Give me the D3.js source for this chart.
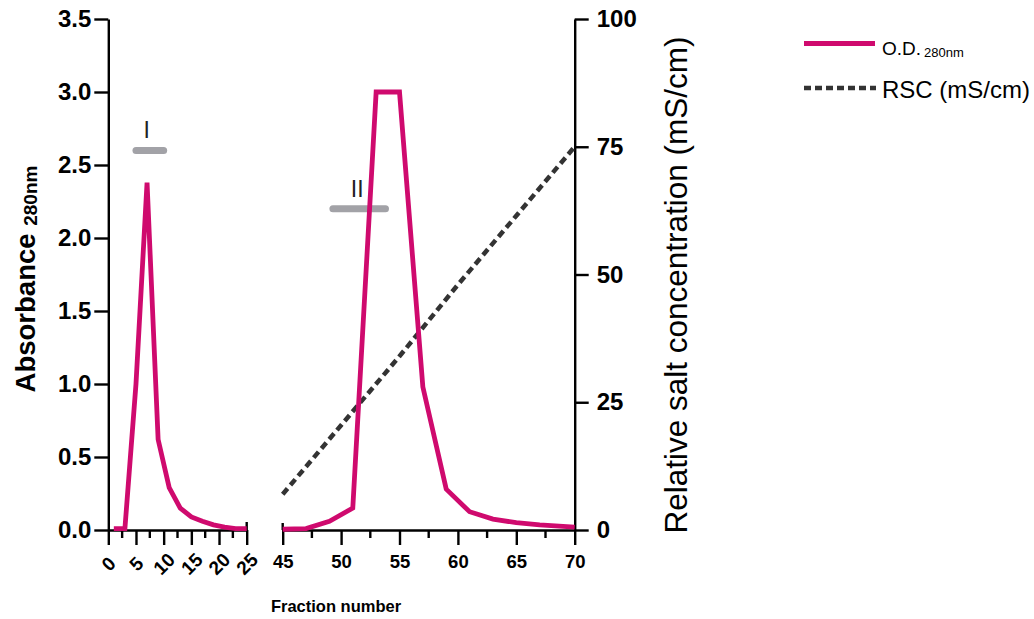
<!DOCTYPE html>
<html>
<head>
<meta charset="utf-8">
<script src="https://cdn.jsdelivr.net/npm/d3@7"></script>
<style>
  html, body { margin: 0; padding: 0; background: #fff; }
  svg { display: block; font-family: "Liberation Sans", Arial, sans-serif; }
</style>
</head>
<body>
<svg id="chart" width="1034" height="619"></svg>
<script>
// ---- Data ----
const fractionsEarly = [1, 3, 5, 7, 9, 11, 13, 15, 17, 19, 21, 23, 25];
const odEarly        = [0.01, 0.01, 1.0, 2.38, 0.62, 0.29, 0.15, 0.09, 0.06, 0.035, 0.02, 0.01, 0.01];
const fractionsLate  = [45, 47, 49, 51, 53, 55, 57, 59, 61, 63, 65, 67, 69, 70];
const odLate         = [0.005, 0.01, 0.06, 0.15, 3.0, 3.0, 0.98, 0.28, 0.125, 0.075, 0.05, 0.035, 0.025, 0.02];
const rscFractions   = [45, 50, 55, 60, 65, 70];
const rscValues      = [7, 20.5, 34, 48, 61.5, 75];
const xTicksEarly    = [0, 5, 10, 15, 20, 25];
const xTicksLate     = [45, 50, 55, 60, 65, 70];
const yLeftTicks     = [0, 0.5, 1.0, 1.5, 2.0, 2.5, 3.0, 3.5];
const yRightTicks    = [0, 25, 50, 75, 100];
const poolLabels     = ["I", "II"];
const poolFrom       = [5, 49.3];
const poolTo         = [10, 53.8];
const poolLevel      = [2.6, 2.2];

// ---- Styles ----
const PINK = "#cf0a6e";
const DARK = "#333333";
const GREY = "#a2a2a7";

const svg = d3.select("#chart");

// ---- Scales ----
const xL = d3.scaleLinear().domain([0, 25]).range([108.3, 246.7]);
const xR = d3.scaleLinear().domain([45, 70]).range([282.7, 574.7]);
const yL = d3.scaleLinear().domain([0, 3.5]).range([530, 19]);
const yR = d3.scaleLinear().domain([0, 100]).range([530, 19]);

// ---- Axes ----
const axisStroke = 2.4;
function styleAxis(g) {
  g.select(".domain").attr("stroke", "#000").attr("stroke-width", axisStroke);
  g.selectAll(".tick line").attr("stroke", "#000").attr("stroke-width", axisStroke);
}

// Left y axis
const gYL = svg.append("g").attr("transform", `translate(${xL(0)},0)`)
  .call(d3.axisLeft(yL).tickValues(yLeftTicks).tickFormat(d3.format(".1f")).tickSizeInner(14).tickSizeOuter(0).tickPadding(3));
styleAxis(gYL);
gYL.selectAll(".tick text").attr("font-size", 24).attr("font-weight", "bold").attr("fill", "#000")
  .attr("font-family", "Liberation Sans, Arial, sans-serif");

// Right y axis
const gYR = svg.append("g").attr("transform", `translate(${xR(70)},0)`)
  .call(d3.axisRight(yR).tickValues(yRightTicks).tickSizeInner(14).tickSizeOuter(0).tickPadding(8));
styleAxis(gYR);
gYR.selectAll(".tick text").attr("font-size", 24).attr("font-weight", "bold").attr("fill", "#000")
  .attr("font-family", "Liberation Sans, Arial, sans-serif");

// Bottom x axis: early segment
const minorEarly = d3.range(0, 25.01, 2.5).filter(v => v % 5 !== 0);
const minorLate = d3.range(45, 70.01, 2.5).filter(v => v % 5 !== 0);

const gXL = svg.append("g").attr("transform", `translate(0,${yL(0)})`)
  .call(d3.axisBottom(xL).tickValues(xTicksEarly).tickSizeInner(15).tickSizeOuter(0).tickPadding(4));
styleAxis(gXL);
gXL.selectAll(".tick text")
  .attr("font-size", 19).attr("font-weight", "bold").attr("fill", "#000")
  .attr("font-family", "Liberation Sans, Arial, sans-serif")
  .attr("text-anchor", "middle").attr("dy", null).attr("y", null)
  .attr("transform", "translate(1,35) rotate(-45)")
  .attr("dominant-baseline", "middle");
gXL.selectAll(".minor").data(minorEarly).enter().append("line")
  .attr("x1", d => xL(d)).attr("x2", d => xL(d)).attr("y1", 0).attr("y2", 8)
  .attr("stroke", "#000").attr("stroke-width", axisStroke);

// Bottom x axis: late segment
const gXR = svg.append("g").attr("transform", `translate(0,${yL(0)})`)
  .call(d3.axisBottom(xR).tickValues(xTicksLate).tickSizeInner(15).tickSizeOuter(0).tickPadding(10));
styleAxis(gXR);
gXR.selectAll(".tick text").attr("font-size", 18.5).attr("font-weight", "bold").attr("fill", "#000")
  .attr("font-family", "Liberation Sans, Arial, sans-serif");
gXR.selectAll(".minor").data(minorLate).enter().append("line")
  .attr("x1", d => xR(d)).attr("x2", d => xR(d)).attr("y1", 0).attr("y2", 8)
  .attr("stroke", "#000").attr("stroke-width", axisStroke);

// break marks at segment ends
svg.append("line").attr("x1", xL(25)).attr("x2", xL(25)).attr("y1", yL(0) - 8).attr("y2", yL(0))
  .attr("stroke", "#000").attr("stroke-width", axisStroke);
svg.append("line").attr("x1", xR(45)).attr("x2", xR(45)).attr("y1", yL(0) - 7).attr("y2", yL(0))
  .attr("stroke", "#000").attr("stroke-width", axisStroke);

// ---- Lines ----
const lineEarly = d3.line().x((d, i) => xL(fractionsEarly[i])).y(d => yL(d));
const lineLate = d3.line().x((d, i) => xR(fractionsLate[i])).y(d => yL(d));
const lineRsc = d3.line().x((d, i) => xR(rscFractions[i])).y(d => yR(d));

svg.append("path").datum(rscValues).attr("d", lineRsc)
  .attr("fill", "none").attr("stroke", DARK).attr("stroke-width", 4.5)
  .attr("stroke-dasharray", "7.5,4.5");

// pool bars
poolLabels.forEach((lab, i) => {
  const xs = i === 0 ? xL : xR;
  svg.append("line")
    .attr("x1", xs(poolFrom[i])).attr("x2", xs(poolTo[i]))
    .attr("y1", yL(poolLevel[i])).attr("y2", yL(poolLevel[i]))
    .attr("stroke", GREY).attr("stroke-width", 7).attr("stroke-linecap", "round");
  svg.append("text")
    .attr("x", xs((poolFrom[i] + poolTo[i]) / 2) + (i === 0 ? -3 : -2))
    .attr("y", yL(poolLevel[i]) - 12)
    .attr("text-anchor", "middle").attr("font-size", 23).attr("fill", "#222")
    .text(lab);
});

svg.append("path").datum(odEarly).attr("d", lineEarly)
  .attr("fill", "none").attr("stroke", PINK).attr("stroke-width", 4.8).attr("stroke-linejoin", "miter");
svg.append("path").datum(odLate).attr("d", lineLate)
  .attr("fill", "none").attr("stroke", PINK).attr("stroke-width", 4.8).attr("stroke-linejoin", "miter");

// ---- Axis titles ----
const lt = svg.append("text").attr("transform", "translate(35,279) rotate(-90)")
  .attr("text-anchor", "middle").attr("font-weight", "bold").attr("font-size", 27.5).attr("fill", "#000");
lt.append("tspan").text("Absorbance ");
lt.append("tspan").attr("font-size", 19).attr("dy", 2).text("280nm");

svg.append("text").attr("transform", "translate(687,285) rotate(-90)")
  .attr("text-anchor", "middle").attr("font-size", 31.5).attr("fill", "#000")
  .text("Relative salt concentration (mS/cm)");

svg.append("text").attr("x", 336).attr("y", 612)
  .attr("text-anchor", "middle").attr("font-weight", "bold").attr("font-size", 16.5).attr("fill", "#000")
  .text("Fraction number");

// ---- Legend ----
svg.append("line").attr("x1", 804).attr("x2", 875).attr("y1", 43.5).attr("y2", 43.5)
  .attr("stroke", PINK).attr("stroke-width", 5);
const l1 = svg.append("text").attr("x", 882).attr("y", 55).attr("font-size", 19).attr("fill", "#000");
l1.append("tspan").text("O.D.");
l1.append("tspan").attr("font-size", 13).attr("dx", 3).attr("dy", 2).text("280nm");

svg.append("line").attr("x1", 804).attr("x2", 876).attr("y1", 88).attr("y2", 88)
  .attr("stroke", DARK).attr("stroke-width", 4.5).attr("stroke-dasharray", "7,4");
svg.append("text").attr("x", 882).attr("y", 98).attr("font-size", 24).attr("fill", "#000")
  .text("RSC (mS/cm)");
</script>
</body>
</html>
